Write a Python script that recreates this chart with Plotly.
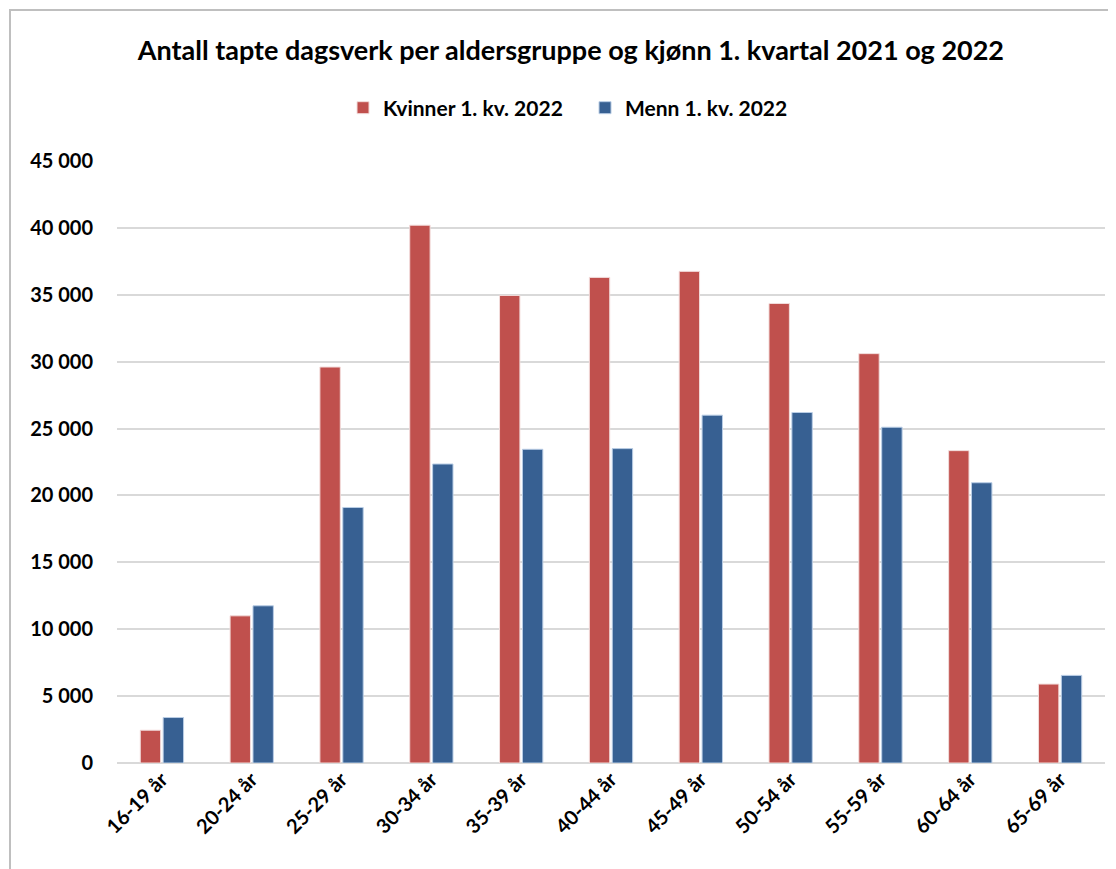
import plotly.graph_objects as go

aldersgrupper = ["16-19 år", "20-24 år", "25-29 år", "30-34 år", "35-39 år", "40-44 år",
                 "45-49 år", "50-54 år", "55-59 år", "60-64 år", "65-69 år"]
kvinner_2022 = [2450, 11000, 29600, 40200, 34950, 36300, 36750, 34350, 30600, 23350, 5900]
menn_2022 = [3400, 11750, 19100, 22350, 23450, 23500, 26000, 26200, 25100, 20950, 6550]
y_ticks = [0, 5000, 10000, 15000, 20000, 25000, 30000, 35000, 40000, 45000]

font = "Lato, Calibri, sans-serif"
bold = dict(family=font, size=20, color="#000000", weight="bold")

fig = go.Figure()
fig.add_bar(x=aldersgrupper, y=kvinner_2022, name="Kvinner 1. kv. 2022",
            marker=dict(color="#C0504D", line=dict(color="#F2DCDB", width=1)))
fig.add_bar(x=aldersgrupper, y=menn_2022, name="Menn 1. kv. 2022",
            marker=dict(color="#376092", line=dict(color="#B9CDE5", width=1)))

# siden har 8 px marg i body, så figuren er 8 px mindre
fig.update_layout(
    width=1108, height=861,
    margin=dict(l=109, r=11, t=153, b=106),
    paper_bgcolor="white", plot_bgcolor="white",
    barmode="group", bargap=0.49, bargroupgap=0.11,
    separators=", ",
    font=dict(family=font, color="#000000", size=20),
    title=dict(text="Antall tapte dagsverk per aldersgruppe og kjønn 1. kvartal 2021 og 2022",
               x=0.508, xanchor="center", y=0.951, yanchor="middle",
               font=dict(family=font, size=27, color="#000000", weight="bold")),
    legend=dict(orientation="h", x=0.4737, xanchor="center", y=1.088, yanchor="middle",
                font=dict(family=font, size=21, color="#000000", weight="bold"),
                itemwidth=30, traceorder="normal", entrywidth=197),
    showlegend=True,
)

fig.update_xaxes(tickangle=-45, tickfont=bold,
                 showline=False, showgrid=False, ticks="")
fig.update_yaxes(range=[0, 45000], tickvals=y_ticks, tickformat=",d",
                 tickfont=bold,
                 showgrid=True, gridcolor="#D9D9D9", gridwidth=2,
                 zeroline=True, zerolinecolor="#D9D9D9", zerolinewidth=2,
                 showline=False, ticks="", ticklabelstandoff=23)

# ytre ramme rundt diagrammet
fig.add_shape(type="rect", xref="paper", yref="paper",
              x0=(10 - 117) / 988, x1=1.05, y0=-0.3, y1=(763 - 10) / 602,
              line=dict(color="#BFBFBF", width=2), fillcolor="rgba(0,0,0,0)", layer="below")

fig.write_html("out.html")
